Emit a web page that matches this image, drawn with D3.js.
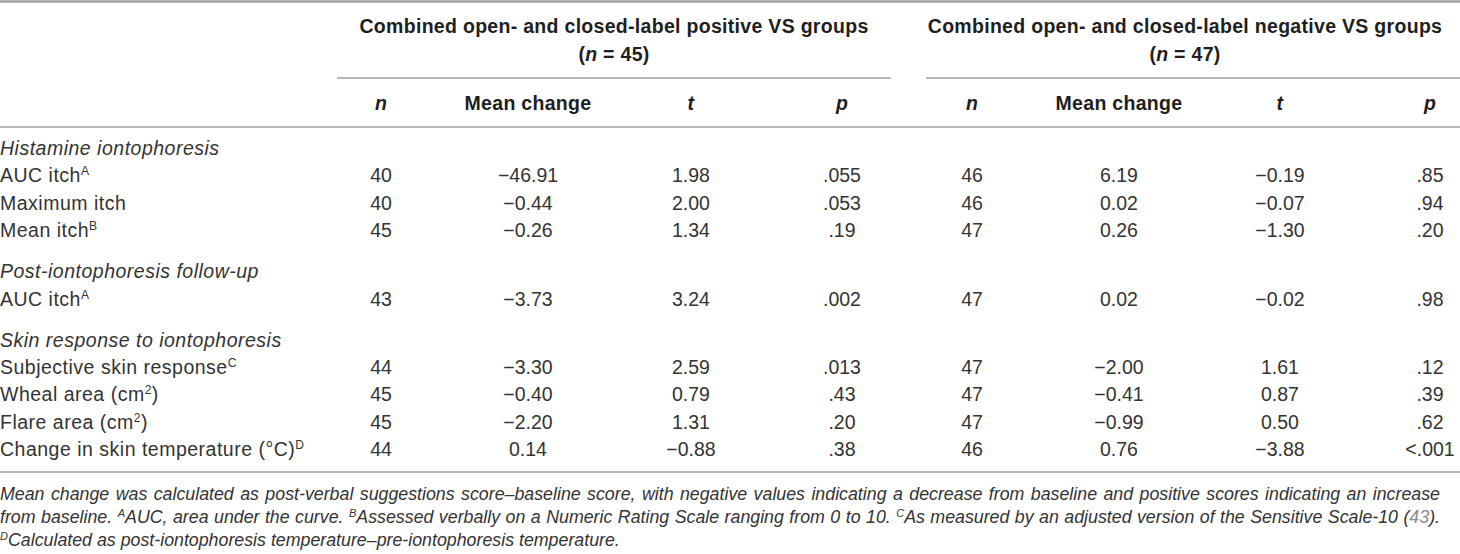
<!DOCTYPE html>
<html>
<head>
<meta charset="utf-8">
<script src="https://cdn.jsdelivr.net/npm/d3@7"></script>
<style>
    body { margin: 0; background: #fff; }
    svg text { font-family: "Liberation Sans", Arial, sans-serif; fill: #333; }
    .bold { font-weight: 700; fill: #1e1e1e; letter-spacing: 0.3px; }
    .row-label { letter-spacing: 0.5px; }
    .rule { stroke: #a0a0a0; stroke-width: 1.5; }
</style>
</head>
<body>
<svg id="table" width="1460" height="554"></svg>
<script>
// row labels, "^" toggles superscript
const rowLabels = [
    "Histamine iontophoresis",
    "AUC itch^A",
    "Maximum itch",
    "Mean itch^B",
    "Post-iontophoresis follow-up",
    "AUC itch^A",
    "Skin response to iontophoresis",
    "Subjective skin response^C",
    "Wheal area (cm^2^)",
    "Flare area (cm^2^)",
    "Change in skin temperature (°C)^D"
];
const isSection = [true, false, false, false, true, false, true, false, false, false, false];

const groupTitles = ["Combined open- and closed-label positive VS groups",
                     "Combined open- and closed-label negative VS groups"];
const groupN = [45, 47];
const columnHeaders = ["n", "Mean change", "t", "p"];

// values for the non-section rows, top to bottom
const nPos = [40, 40, 45, 43, 44, 45, 45, 44];
const meanPos = [-46.91, -0.44, -0.26, -3.73, -3.30, -0.40, -2.20, 0.14];
const tPos = [1.98, 2.00, 1.34, 3.24, 2.59, 0.79, 1.31, -0.88];
const pPos = [".055", ".053", ".19", ".002", ".013", ".43", ".20", ".38"];
const nNeg = [46, 46, 47, 47, 47, 47, 47, 46];
const meanNeg = [6.19, 0.02, 0.26, 0.02, -2.00, -0.41, -0.99, 0.76];
const tNeg = [-0.19, -0.07, -1.30, -0.02, 1.61, 0.87, 0.50, -3.88];
const pNeg = [".85", ".94", ".20", ".98", ".12", ".39", ".62", "<.001"];

const footnotes = [
    "Mean change was calculated as post-verbal suggestions score\u2013baseline score, with negative values indicating a decrease from baseline and positive scores indicating an increase",
    "from baseline. ^A^AUC, area under the curve. ^B^Assessed verbally on a Numeric Rating Scale ranging from 0 to 10. ^C^As measured by an adjusted version of the Sensitive Scale-10 (~43~).",
    "^D^Calculated as post-iontophoresis temperature\u2013pre-iontophoresis temperature."
];

window.addEventListener("DOMContentLoaded", draw);

function draw() {
    const svg = d3.select("#table");
    const width = +svg.attr("width");
    const fontSize = 19.5;
    const noteSize = 17.8;
    const noteWidth = 1440;

    const colKeys = ["nPos", "meanPos", "tPos", "pPos", "nNeg", "meanNeg", "tNeg", "pNeg"];
    const x = d3.scaleOrdinal()
          .domain(colKeys)
          .range([381, 528, 691, 842, 972, 1119, 1280, 1430]);
    const groupX = d3.scaleOrdinal().domain([0, 1]).range([[337, 891], [926, width]]);

    // slot index per row, sections after the first get an extra half row
    let slot = -1;
    const slots = rowLabels.map(function(label, i) {
        slot += (isSection[i] && i > 0) ? 1.5 : 1;
        return slot;
    });
    const y = d3.scaleLinear().domain([0, 1]).range([148, 175.4]);

    const fmt = d3.format(".2f");
    const dash = (v) => fmt(v).replace("-", "\u2013");

    // rules
    svg.append("line").attr("class", "rule")
        .attr("x1", 0).attr("x2", width).attr("y1", 1.5).attr("y2", 1.5)
        .style("stroke-width", 2.5);
    [0, 1].forEach(function(g) {
        svg.append("line").attr("class", "rule")
            .attr("x1", groupX(g)[0]).attr("x2", groupX(g)[1])
            .attr("y1", 78).attr("y2", 78);
    });
    [127, 472].forEach(function(yy) {
        svg.append("line").attr("class", "rule")
            .attr("x1", 0).attr("x2", width).attr("y1", yy).attr("y2", yy);
    });

    // group headers
    [0, 1].forEach(function(g) {
        const cx = (groupX(g)[0] + groupX(g)[1]) / 2 + (g == 1 ? -8 : 0);
        svg.append("text").attr("class", "bold")
            .attr("x", cx).attr("y", 26).attr("dy", "0.35em")
            .attr("text-anchor", "middle").style("font-size", fontSize + "px")
            .text(groupTitles[g]);
        const t = svg.append("text").attr("class", "bold")
            .attr("x", cx).attr("y", 54).attr("dy", "0.35em")
            .attr("text-anchor", "middle").style("font-size", fontSize + "px");
        t.append("tspan").text("(");
        t.append("tspan").style("font-style", "italic").text("n");
        t.append("tspan").text(" = " + groupN[g] + ")");
    });

    // column headers
    svg.selectAll(".col-header")
        .data(colKeys)
        .enter().append("text")
        .attr("class", "col-header bold")
        .attr("x", (d) => x(d))
        .attr("y", 103).attr("dy", "0.35em")
        .attr("text-anchor", "middle")
        .style("font-size", fontSize + "px")
        .style("font-style", (d, i) => (i % 4 == 1) ? "normal" : "italic")
        .text((d, i) => columnHeaders[i % 4]);

    // row labels
    const labels = svg.selectAll(".row-label")
          .data(rowLabels)
          .enter().append("text")
          .attr("class", "row-label")
          .attr("x", 0)
          .attr("y", (d, i) => y(slots[i])).attr("dy", "0.35em")
          .style("font-size", fontSize + "px")
          .style("font-style", (d, i) => isSection[i] ? "italic" : "normal");
    labels.each(function(d) {
        addRich(d3.select(this), d, fontSize);
    });

    // data cells
    const dataRows = slots.filter((s, i) => !isSection[i]);
    const cells = [];
    dataRows.forEach(function(s, r) {
        cells.push({col: "nPos", s: s, v: String(nPos[r])});
        cells.push({col: "meanPos", s: s, v: dash(meanPos[r])});
        cells.push({col: "tPos", s: s, v: dash(tPos[r])});
        cells.push({col: "pPos", s: s, v: pPos[r]});
        cells.push({col: "nNeg", s: s, v: String(nNeg[r])});
        cells.push({col: "meanNeg", s: s, v: dash(meanNeg[r])});
        cells.push({col: "tNeg", s: s, v: dash(tNeg[r])});
        cells.push({col: "pNeg", s: s, v: pNeg[r]});
    });
    svg.selectAll(".cell")
        .data(cells)
        .enter().append("text")
        .attr("class", "cell")
        .attr("x", (d) => x(d.col))
        .attr("y", (d) => y(d.s)).attr("dy", "0.35em")
        .attr("text-anchor", "middle")
        .style("font-size", fontSize + "px")
        .text((d) => d.v);

    // footnotes, justified except the last line
    svg.selectAll(".footnote")
        .data(footnotes)
        .enter().append("text")
        .attr("class", "footnote")
        .attr("x", 0)
        .attr("y", (d, i) => 494 + i * 23).attr("dy", "0.35em")
        .style("font-size", noteSize + "px")
        .style("font-style", "italic")
        .each(function(d, i) {
            const sel = d3.select(this);
            addRich(sel, d, noteSize);
            if (i < footnotes.length - 1) {
                const spaces = d.split(" ").length - 1;
                const extra = (noteWidth - this.getComputedTextLength()) / spaces;
                sel.style("word-spacing", extra + "px");
            }
        });
}

// "^" toggles superscript, "~" toggles grey link text
function addRich(sel, str, size) {
    let sup = false, link = false, buf = "";
    function flush() {
        if (!buf) return;
        const span = sel.append("tspan").text(buf);
        if (sup) span.style("font-size", (size * 0.62) + "px").attr("baseline-shift", "super");
        if (link) span.style("fill", "#8a8a8a");
        buf = "";
    }
    for (const ch of str) {
        if (ch == "^") { flush(); sup = !sup; }
        else if (ch == "~") { flush(); link = !link; }
        else buf += ch;
    }
    flush();
}
</script>
</body>
</html>
